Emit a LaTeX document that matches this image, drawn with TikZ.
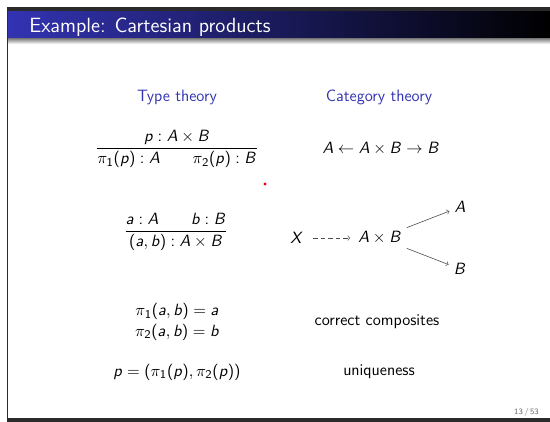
\documentclass[tikz,border=0pt]{standalone}
\usepackage{amsmath}
\usetikzlibrary{positioning, arrows}
\renewcommand{\familydefault}{\sfdefault}
\DeclareSymbolFont{sfletters}{OT1}{cmss}{m}{sl}
\SetSymbolFont{operators}{normal}{OT1}{cmss}{m}{n}
\DeclareMathSymbol{A}{\mathalpha}{sfletters}{`A}
\DeclareMathSymbol{B}{\mathalpha}{sfletters}{`B}
\DeclareMathSymbol{X}{\mathalpha}{sfletters}{`X}
\DeclareMathSymbol{a}{\mathalpha}{sfletters}{`a}
\DeclareMathSymbol{b}{\mathalpha}{sfletters}{`b}
\DeclareMathSymbol{p}{\mathalpha}{sfletters}{`p}
\definecolor{structblue}{rgb}{0.2,0.2,0.7}
\definecolor{framegray}{rgb}{0.17,0.17,0.17}

\begin{document}
\begin{tikzpicture}[x=0.02357cm, y=-0.02357cm,
    font=\fontsize{11}{13.6}\selectfont,
    head/.style={text=structblue},
    arr/.style={->, black!70, thin}]
    \useasboundingbox (0,0) rectangle (550,422);

    % frame of the slide
    \fill[framegray] (7,7) rectangle (550,12);
    \shade[left color=structblue, right color=black] (7,12) rectangle (550,39);
    \shade[top color=black!45, bottom color=white] (7,39) rectangle (550,44);
    \draw[framegray, line width=1.2pt] (7.5,7) -- (7.5,420);
    \fill[framegray] (7,418) rectangle (550,422);
    \node[anchor=base west, text=white, font=\fontsize{13.8}{17}\selectfont] (title) at (24,33) {Example: Cartesian products};

    % headings
    \node[head] (tt) at (177,97) {Type theory};
    \node[head] (ct) at (379,97) {Category theory};

    % projections
    \node (proj) at (177,149) {$\dfrac{p : A\times B}{\pi_1(p) : A \qquad \pi_2(p) : B}$};
    \node (span) at (381,149) {$A \leftarrow A\times B \rightarrow B$};
    \fill[red] (265,184) circle (1.6);

    % pairing
    \node (pair) at (176,232) {$\dfrac{a : A \qquad b : B}{(a,b) : A\times B}$};
    \node (X) at (297,238) {$X$};
    \node (prod) at (380,238) {$A\times B$};
    \node (A) at (460,207) {$A$};
    \node (B) at (460,269) {$B$};
    \path[arr]
        (X) edge[dash pattern=on 3pt off 2pt, shorten <=3pt, shorten >=2pt] (prod)
        (prod) edge (A)
               edge (B);

    % equations
    \node[align=center] (beta) at (177,322) {$\pi_1(a,b) = a$\\$\pi_2(a,b) = b$};
    \node (corr) at (377,322) {correct composites};
    \node (eta) at (177,372) {$p = (\pi_1(p), \pi_2(p))$};
    \node (uniq) at (379,372) {uniqueness};

    \node[anchor=east, text=black!60, font=\fontsize{5.5}{6.5}\selectfont] (page) at (544,412) {13\,/\,53};
\end{tikzpicture}
\end{document}
